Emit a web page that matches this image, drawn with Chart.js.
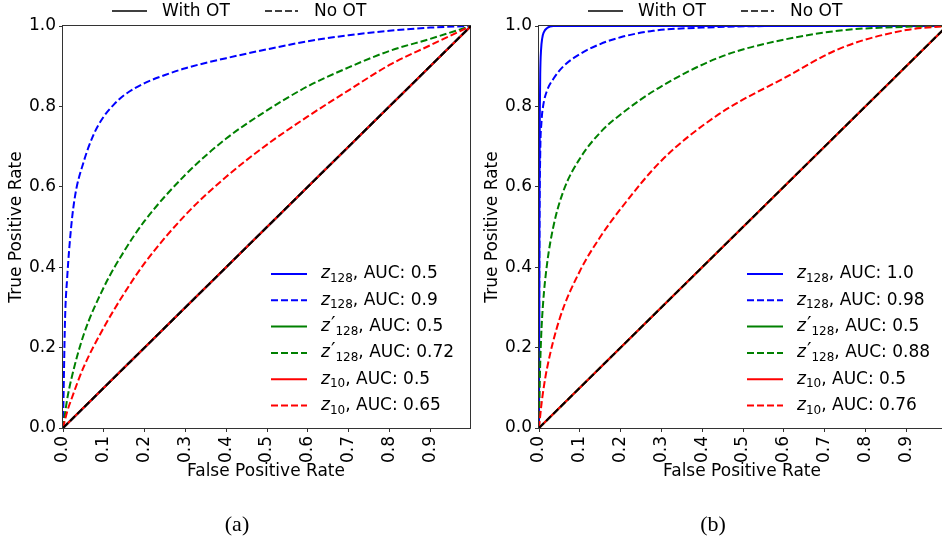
<!DOCTYPE html>
<html>
<head>
<meta charset="utf-8">
<script src="https://cdn.jsdelivr.net/npm/chart.js@4.4.1/dist/chart.umd.min.js"></script>
<style>
  html, body { margin: 0; padding: 0; background: #fff; overflow: hidden; width: 942px; height: 542px; }
  canvas { position: absolute; top: 0; }
  #rocA { left: 0; }
  #rocB { left: 471px; }
</style>
</head>
<body>
<canvas id="rocA" width="471" height="542"></canvas>
<canvas id="rocB" width="476" height="542"></canvas>
<script>
// axis ticks
const xTickValues = [0, 0.1, 0.2, 0.3, 0.4, 0.5, 0.6, 0.7, 0.8, 0.9];
const yTickValues = [0, 0.2, 0.4, 0.6, 0.8, 1.0];

// chance diagonal (also the AUC 0.5 curves)
const diagFpr = [0, 1];
const diagTpr = [0, 1];

// panel (a)
const aZ128Fpr = [0, 0.005, 0.01, 0.02, 0.03, 0.05, 0.075, 0.1, 0.125, 0.15, 0.2, 0.25, 0.3, 0.4, 0.5, 0.6, 0.7, 0.8, 0.9, 1];
const aZ128Tpr = [0, 0.27, 0.37, 0.5, 0.58, 0.66, 0.73, 0.775, 0.805, 0.828, 0.858, 0.878, 0.895, 0.92, 0.942, 0.962, 0.977, 0.988, 0.996, 1];
const aZp128Fpr = [0, 0.01, 0.02, 0.05, 0.1, 0.15, 0.2, 0.3, 0.4, 0.5, 0.6, 0.7, 0.8, 0.9, 1];
const aZp128Tpr = [0, 0.07, 0.12, 0.23, 0.35, 0.44, 0.515, 0.63, 0.72, 0.79, 0.85, 0.897, 0.938, 0.968, 1];
const aZ10Fpr = [0, 0.01, 0.02, 0.05, 0.1, 0.15, 0.2, 0.3, 0.4, 0.5, 0.6, 0.7, 0.8, 0.9, 1];
const aZ10Tpr = [0, 0.04, 0.07, 0.15, 0.25, 0.335, 0.41, 0.53, 0.625, 0.705, 0.775, 0.84, 0.903, 0.952, 1];
const aAuc = ['0.5', '0.9', '0.5', '0.72', '0.5', '0.65'];

// panel (b)
const bZ128OtFpr = [0, 0.001, 0.002, 0.003, 0.005, 0.008, 0.012, 0.02, 0.035, 1];
const bZ128OtTpr = [0, 0.55, 0.78, 0.88, 0.94, 0.97, 0.985, 0.995, 1, 1];
const bZ128Fpr = [0, 0.001, 0.003, 0.006, 0.01, 0.02, 0.035, 0.06, 0.1, 0.15, 0.2, 0.28, 0.4, 0.6, 1];
const bZ128Tpr = [0, 0.45, 0.68, 0.76, 0.8, 0.84, 0.868, 0.9, 0.93, 0.955, 0.972, 0.988, 0.996, 1, 1];
const bZp128Fpr = [0, 0.002, 0.005, 0.01, 0.02, 0.035, 0.06, 0.1, 0.15, 0.2, 0.3, 0.45, 0.6, 0.75, 0.9, 1];
const bZp128Tpr = [0, 0.12, 0.22, 0.31, 0.41, 0.5, 0.59, 0.67, 0.735, 0.78, 0.85, 0.925, 0.966, 0.99, 0.998, 1];
const bZ10Fpr = [0, 0.005, 0.01, 0.02, 0.05, 0.1, 0.15, 0.2, 0.3, 0.44, 0.6, 0.74, 0.9, 1];
const bZ10Tpr = [0, 0.05, 0.09, 0.15, 0.27, 0.39, 0.475, 0.545, 0.665, 0.78, 0.87, 0.945, 0.99, 1];
const bAuc = ['1.0', '0.98', '0.5', '0.88', '0.5', '0.76'];

// legend entries: z_128, z_128, z'_128, z'_128, z_10, z_10
const legendSubs = ['128', '128', '128', '128', '10', '10'];
const legendPrime = [false, false, true, true, false, false];
const curveColors = ['#0000ff', '#0000ff', '#008000', '#008000', '#ff0000', '#ff0000'];
const curveDashed = [false, true, false, true, false, true];
const DASH = [7, 3];
const FONT = '"DejaVu Sans", sans-serif';

Chart.defaults.font.family = FONT;
Chart.defaults.font.size = 17;
Chart.defaults.color = '#000';

function pts(xs, ys) {
    return xs.map((x, i) => ({ x: x, y: ys[i] }));
}

// frame, legends, axis titles and caption
const panelDecor = {
    id: 'panelDecor',
    beforeDatasetsDraw(chart) {
        const { ctx, chartArea: a } = chart;
        ctx.save();
        ctx.strokeStyle = '#333';
        ctx.lineWidth = 1;
        ctx.strokeRect(a.left - 0.5, a.top - 0.5, a.right - a.left, a.bottom - a.top + 1);
        ctx.restore();
    },
    afterDraw(chart, args, opts) {
        const { ctx, chartArea: a } = chart;
        ctx.save();
        ctx.textBaseline = 'middle';
        ctx.fillStyle = '#000';

        // top legend
        const ly = 11;
        const tx = a.left + 49;
        ctx.strokeStyle = '#000';
        ctx.lineWidth = 1.5;
        ctx.beginPath(); ctx.moveTo(tx, ly); ctx.lineTo(tx + 35, ly); ctx.stroke();
        ctx.setLineDash(DASH);
        ctx.beginPath(); ctx.moveTo(tx + 153, ly); ctx.lineTo(tx + 186, ly); ctx.stroke();
        ctx.setLineDash([]);
        ctx.font = '17px ' + FONT;
        ctx.textAlign = 'left';
        ctx.fillText('With OT', tx + 50, ly + 1);
        ctx.fillText('No OT', tx + 202, ly + 1);

        // legend inside the plot
        const lx = a.left + 208;
        for (let i = 0; i < 6; i++) {
            const y = 274 + i * 26.3;
            ctx.strokeStyle = curveColors[i];
            ctx.lineWidth = 2;
            ctx.setLineDash(curveDashed[i] ? DASH : []);
            ctx.beginPath(); ctx.moveTo(lx, y); ctx.lineTo(lx + 36, y); ctx.stroke();
            ctx.setLineDash([]);
            let x = lx + 50;
            ctx.font = 'italic 17px ' + FONT;
            ctx.fillText('z', x, y);
            x += ctx.measureText('z').width;
            if (legendPrime[i]) {
                ctx.font = '20px ' + FONT;
                ctx.fillText('\u2032', x + 1, y - 2);
                x += ctx.measureText('\u2032').width + 1;
            }
            ctx.font = '12px ' + FONT;
            ctx.fillText(legendSubs[i], x, y + 5);
            x += ctx.measureText(legendSubs[i]).width;
            ctx.font = '17px ' + FONT;
            ctx.fillText(', AUC: ' + opts.aucs[i], x, y);
        }

        // axis titles
        ctx.font = '17px ' + FONT;
        ctx.textAlign = 'center';
        ctx.fillText('False Positive Rate', (a.left + a.right) / 2 - 1, 472);
        ctx.save();
        ctx.translate(a.left - 46, (a.top + a.bottom) / 2);
        ctx.rotate(-Math.PI / 2);
        ctx.fillText('True Positive Rate', 0, 0);
        ctx.restore();

        // caption
        ctx.font = '22px "Liberation Serif", serif';
        ctx.fillText(opts.caption, a.left + 174, 525);
        ctx.restore();
    }
};

function makeRoc(canvasId, yAxisWidth, curves, aucs, caption) {
    const datasets = curves.map((c, i) => ({
        data: pts(c[0], c[1]),
        borderColor: curveColors[i],
        borderWidth: 2,
        borderDash: curveDashed[i] ? DASH : [],
        order: 10 - i
    }));
    datasets.push({
        data: pts(diagFpr, diagTpr),
        borderColor: '#000',
        borderWidth: 2,
        borderDash: DASH,
        order: 0
    });

    return new Chart(document.getElementById(canvasId), {
        type: 'line',
        data: { datasets: datasets },
        plugins: [panelDecor],
        options: {
            responsive: false,
            animation: false,
            layout: { padding: { top: 26, right: 0, bottom: 0, left: 0 } },
            elements: {
                point: { radius: 0 },
                line: { cubicInterpolationMode: 'monotone', fill: false }
            },
            scales: {
                x: {
                    type: 'linear',
                    min: 0,
                    max: 1,
                    afterBuildTicks: (s) => { s.ticks = xTickValues.map(v => ({ value: v })); },
                    afterFit: (s) => { s.height = 114; },
                    ticks: {
                        minRotation: 90,
                        maxRotation: 90,
                        padding: 4,
                        callback: (v) => Number(v).toFixed(1)
                    },
                    grid: { drawOnChartArea: false, tickLength: 4, color: '#333' },
                    border: { display: false }
                },
                y: {
                    type: 'linear',
                    min: 0,
                    max: 1,
                    afterBuildTicks: (s) => { s.ticks = yTickValues.map(v => ({ value: v })); },
                    afterFit: (s) => { s.width = yAxisWidth; },
                    ticks: {
                        padding: 3,
                        callback: (v) => Number(v).toFixed(1)
                    },
                    grid: { drawOnChartArea: false, tickLength: 4, color: '#333' },
                    border: { display: false }
                }
            },
            plugins: {
                legend: { display: false },
                tooltip: { enabled: false },
                panelDecor: { aucs: aucs, caption: caption }
            }
        }
    });
}

makeRoc('rocA', 63, [
    [diagFpr, diagTpr],
    [aZ128Fpr, aZ128Tpr],
    [diagFpr, diagTpr],
    [aZp128Fpr, aZp128Tpr],
    [diagFpr, diagTpr],
    [aZ10Fpr, aZ10Tpr]
], aAuc, '(a)');

makeRoc('rocB', 68, [
    [bZ128OtFpr, bZ128OtTpr],
    [bZ128Fpr, bZ128Tpr],
    [diagFpr, diagTpr],
    [bZp128Fpr, bZp128Tpr],
    [diagFpr, diagTpr],
    [bZ10Fpr, bZ10Tpr]
], bAuc, '(b)');
</script>
</body>
</html>
